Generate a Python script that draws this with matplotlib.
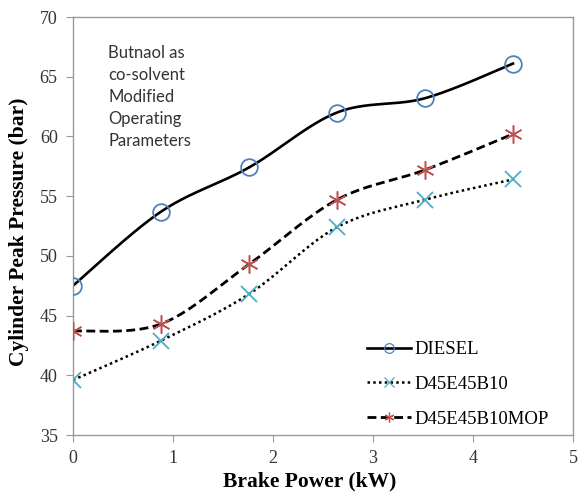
import numpy as np
import matplotlib
matplotlib.use("Agg")
import matplotlib.pyplot as plt

# Data
brake_power = [0.0, 0.88, 1.76, 2.64, 3.52, 4.40]
diesel = [47.5, 53.7, 57.4, 62.0, 63.2, 66.1]
d45e45b10 = [39.6, 42.9, 46.8, 52.4, 54.7, 56.4]
d45e45b10_mop = [43.7, 44.3, 49.3, 54.7, 57.2, 60.2]

series_names = ["DIESEL", "D45E45B10", "D45E45B10MOP"]
x_ticks = [0, 1, 2, 3, 4, 5]
y_ticks = [35, 40, 45, 50, 55, 60, 65, 70]
note = "Butnaol as\nco-solvent\nModified\nOperating\nParameters"


def smooth(xs, ys, n=40):
    """Catmull-Rom curve through the points (like Excel's smoothed line)."""
    p = np.column_stack([xs, ys]).astype(float)
    p = np.vstack([p[0], p, p[-1]])
    out = []
    for i in range(1, len(p) - 2):
        p0, p1, p2, p3 = p[i - 1], p[i], p[i + 1], p[i + 2]
        t = np.linspace(0, 1, n)[:, None]
        seg = 0.5 * ((2 * p1) + (-p0 + p2) * t
                     + (2 * p0 - 5 * p1 + 4 * p2 - p3) * t ** 2
                     + (-p0 + 3 * p1 - 3 * p2 + p3) * t ** 3)
        out.append(seg)
    c = np.vstack(out)
    return c[:, 0], c[:, 1]


plt.rcParams['font.family'] = ['Liberation Serif', 'DejaVu Serif']

fig = plt.figure(figsize=(5.83, 4.99), dpi=100)
ax = fig.add_axes([73 / 583, 1 - 435 / 499, 500 / 583, 418 / 499])

styles = [
    dict(ls='-', lw=1.9, marker='o', ms=12, mec='#4F81BD', mew=1.3),
    dict(ls=(0, (1, 1.3)), lw=1.8, marker='x', ms=12, mec='#4BACC6', mew=1.3),
    dict(ls=(0, (3.2, 1.6)), lw=2.0, marker=(6, 2, 0), ms=13, mec='#C0504D', mew=1.1),
]

for ys, name, st in zip([diesel, d45e45b10, d45e45b10_mop], series_names, styles):
    sx, sy = smooth(brake_power, ys)
    ax.plot(sx, sy, color='black', ls=st['ls'], lw=st['lw'], zorder=2)
    ax.plot(brake_power, ys, ls='none', marker=st['marker'], ms=st['ms'],
            mfc='none', mec=st['mec'], mew=st['mew'], zorder=3)
    # legend proxy
    ax.plot([], [], color='black', ls=st['ls'], lw=st['lw'], marker=st['marker'],
            ms=7, mfc='none', mec=st['mec'], mew=0.9, label=name)

ax.set_xlim(0, 5)
ax.set_ylim(35, 70)
ax.set_xticks(x_ticks)
ax.set_yticks(y_ticks)
ax.tick_params(direction='out', length=5, color='#999999', labelsize=13,
               labelcolor='#333333', pad=6)
for s in ax.spines.values():
    s.set_color('#999999')
    s.set_linewidth(1.0)

ax.set_xlabel('Brake Power (kW)', fontsize=15.5, fontweight='bold', labelpad=3)
ax.set_ylabel('Cylinder Peak Pressure (bar)', fontsize=15.5, fontweight='bold', labelpad=8)
ax.xaxis.label.set_x(0.474)
ax.yaxis.label.set_y(0.486)

ax.text(0.07, 0.932, note, transform=ax.transAxes, ha='left', va='top',
        fontsize=12, family=['Lato', 'DejaVu Sans'], color='#333333', linespacing=1.45)

ax.legend(loc='lower right', frameon=False, handlelength=2.35,
          handletextpad=0.15, labelspacing=0.94, bbox_to_anchor=(0.985, -0.023),
          prop={'family': 'Liberation Serif', 'size': 13.5})

fig.savefig('out.png', dpi=100)
